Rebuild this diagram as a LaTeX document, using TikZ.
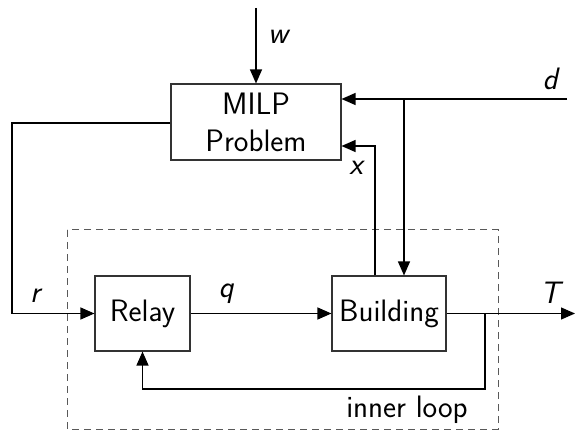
\documentclass[tikz,border=0pt]{standalone}
\usetikzlibrary{arrows.meta,calc}
\begin{document}
\begin{tikzpicture}[x=1pt,y=-1pt,
  font=\sffamily\fontsize{31}{37}\selectfont,
  blk/.style={draw=black!80,line width=1.1pt,inner sep=0pt,align=center},
  arr/.style={line width=1.2pt,-{Triangle[length=14pt,width=12pt]}},
  lbl/.style={anchor=base,font=\sffamily\itshape\fontsize{31}{37}\selectfont},
  loopbox/.style={draw=black!65,line width=1pt,dash pattern=on 7pt off 5pt}]
\useasboundingbox (0,0) rectangle (575,430);
% loop frame
\draw[loopbox] (67,230) rectangle (498,429);
% blocks
\node[blk,minimum width=170pt,minimum height=76pt] (milp) at (256,122) {MILP\\Problem};
\node[blk,minimum width=95pt,minimum height=75pt] (relay) at (142.5,313.5) {Relay};
\node[blk,minimum width=114pt,minimum height=75pt] (bld) at (389,313.5) {Building};
% coordinates
\coordinate (win) at (256,8);
\coordinate (din) at (567,99);
\coordinate (dj) at (404,99);
\coordinate (xt) at (375,146);
\coordinate (rl) at (12,123);
\coordinate (tout) at (575,313.5);
\coordinate (fb) at (485,313.5);
\coordinate (fbb) at (485,389);
% connectors
\draw[arr] (win) -- (milp.north);
\draw[arr] (din) -- (din -| milp.east);
\draw[arr] (dj) -- (dj |- bld.north);
\draw[arr] (xt |- bld.north) -- (xt) -- (xt -| milp.east);
\draw[arr] (rl -| milp.west) -- (rl) -- (rl |- relay.west) -- (relay.west);
\draw[arr] (relay.east) -- (bld.west);
\draw[arr] (bld.east) -- (tout);
\draw[arr] (fb) -- (fbb) -- (fbb -| relay.south) -- (relay.south);
% labels
\node[lbl] (lw) at (278,44) {w};
\node[lbl] (ld) at (550,90) {d};
\node[lbl] (lx) at (356,175) {x};
\node[lbl] (lr) at (35,302) {r};
\node[lbl] (lq) at (226,297) {q};
\node[lbl] (lt) at (550,303) {T};
\node[anchor=base] (inner) at (407,417) {inner loop};
\end{tikzpicture}
\end{document}
